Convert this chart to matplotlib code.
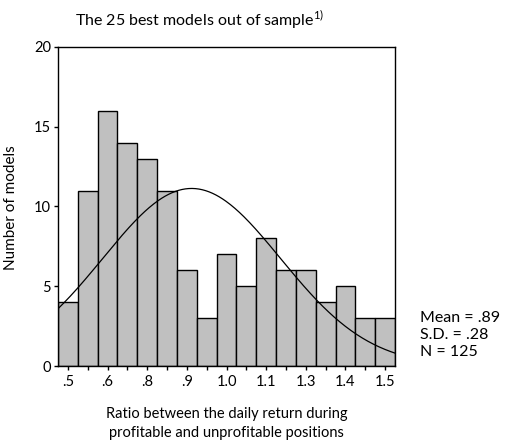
import numpy as np
import matplotlib
matplotlib.use("Agg")
import matplotlib.pyplot as plt

# Histogram data
bin_centers = np.arange(17) * 0.0625 + 0.5
counts = [4, 11, 16, 14, 13, 11, 6, 3, 7, 5, 8, 6, 6, 4, 5, 3, 3]
tick_labels = [".5", ".6", ".8", ".9", "1.0", "1.1", "1.3", "1.4", "1.5"]
mean, sd, n = 0.89, 0.28, 125
bin_width = 0.0625

plt.rcParams["font.family"] = ["Lato", "DejaVu Sans"]

fig = plt.figure(figsize=(5.06, 4.48), dpi=100)
ax = fig.add_axes([58 / 506, 1 - 366 / 448, 337 / 506, 319 / 448])

ax.bar(bin_centers, counts, width=bin_width, color="#c0c0c0",
       edgecolor="black", linewidth=1.0)

# normal curve scaled to counts
xs = np.linspace(0.46875, 1.53125, 300)
ys = n * bin_width / (sd * np.sqrt(2 * np.pi)) * np.exp(-0.5 * ((xs - mean) / sd) ** 2)
ax.plot(xs, ys, color="black", linewidth=0.9)

ax.set_xlim(0.46875, 1.53125)
ax.set_ylim(0, 20)
ax.set_yticks([0, 5, 10, 15, 20])
ax.set_xticks(bin_centers[::2])
ax.set_xticklabels(tick_labels)
ax.set_xticks(bin_centers, minor=True)
ax.tick_params(axis="both", which="both", direction="out", length=3, width=1,
               labelsize=10.5, colors="black")
ax.tick_params(axis="x", which="minor", length=3)
ax.tick_params(axis="y", pad=2)
for sp in ax.spines.values():
    sp.set_linewidth(1.0)

ax.set_ylabel("Number of models", fontsize=11)
ax.yaxis.set_label_coords(-0.119, 0.498)
ax.set_xlabel("Ratio between the daily return during\nprofitable and unprofitable positions",
              fontsize=10.5, labelpad=13, linespacing=1.45)

fig.text(200 / 506, 1 - 20 / 448, r"The 25 best models out of sample$^{\mathregular{1)}}$",
         ha="center", va="center", fontsize=11.5)

fig.text(420 / 506, 1 - 335 / 448, "Mean = .89\nS.D. = .28\nN = 125",
         ha="left", va="center", fontsize=11.5, linespacing=1.3)

fig.savefig("out.png", dpi=100)
